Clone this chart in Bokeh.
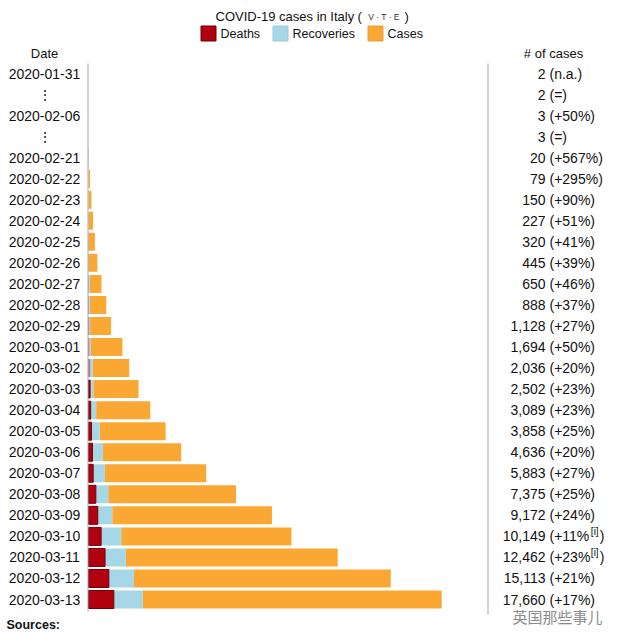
from bokeh.plotting import figure
from bokeh.models import Range1d, ColumnDataSource
from bokeh.core.properties import value
from bokeh.embed import file_html
from bokeh.resources import INLINE

# ---------------- data ----------------
dates = ["2020-01-31", "⋮", "2020-02-06", "⋮", "2020-02-21", "2020-02-22",
         "2020-02-23", "2020-02-24", "2020-02-25", "2020-02-26", "2020-02-27",
         "2020-02-28", "2020-02-29", "2020-03-01", "2020-03-02", "2020-03-03",
         "2020-03-04", "2020-03-05", "2020-03-06", "2020-03-07", "2020-03-08",
         "2020-03-09", "2020-03-10", "2020-03-11", "2020-03-12", "2020-03-13"]
total_cases = [2, 2, 3, 3, 20, 79, 150, 227, 320, 445, 650, 888, 1128, 1694,
               2036, 2502, 3089, 3858, 4636, 5883, 7375, 9172, 10149, 12462,
               15113, 17660]
deaths = [0, 0, 0, 0, 1, 2, 3, 7, 10, 12, 17, 21, 29, 34, 52, 79, 107, 148,
          197, 233, 366, 463, 631, 827, 1016, 1266]
recoveries = [0, 0, 0, 0, 0, 1, 2, 1, 1, 3, 45, 46, 50, 83, 149, 160, 276,
              414, 523, 589, 622, 724, 1004, 1045, 1258, 1439]
change_labels = ["(n.a.)", "(=)", "(+50%)", "(=)", "(+567%)", "(+295%)",
                 "(+90%)", "(+51%)", "(+41%)", "(+39%)", "(+46%)", "(+37%)",
                 "(+27%)", "(+50%)", "(+20%)", "(+23%)", "(+23%)", "(+25%)",
                 "(+20%)", "(+27%)", "(+25%)", "(+24%)", "(+11%)", "(+23%)",
                 "(+21%)", "(+17%)"]
notes = [""] * 22 + ["[i]", "[i]", "", ""]
series_names = ["Deaths", "Recoveries", "Cases"]

# ---------------- styles ----------------
C_DEATH = "#b1000e"
C_DEATH_LINE = "#6e0008"
C_REC = "#a6d7e6"
C_CASE = "#faa733"
C_LINE = "#a2a9b1"
TXT = "#111111"
FONT = "Liberation Sans"

W, H = 613, 633
CPP = 50.0            # cases per screen pixel
X0 = -88 * CPP        # bars start 88px from the left edge
ROW = 21.04           # row pitch in pixels
ROW0 = 73.0           # centre of first row in pixels


def px(cx):
    return X0 + cx * CPP


def py(cy):
    return (cy - ROW0) / ROW


CW = {"(": .333, ")": .333, "+": .584, "%": .889, "0": .556, "1": .556,
      "2": .556, "3": .556, "4": .556, "5": .556, "6": .556, "7": .556,
      "8": .556, "9": .556, "=": .584, "n": .556, "a": .556, ".": .278,
      "[": .278, "]": .278, "i": .222}


def tw(s, size):
    return sum(CW.get(c, .556) for c in s) * size


p = figure(width=W, height=H,
           x_range=Range1d(X0, X0 + W * CPP),
           y_range=Range1d(py(H), py(0)),
           output_backend="svg", toolbar_location=None,
           x_axis_location=None, y_axis_location=None,
           min_border=0, outline_line_color=None)
p.grid.visible = False
p.background_fill_color = "white"
p.border_fill_color = "white"

n = len(dates)
rows = list(range(n))

# ---------------- bars ----------------
big_d = [r for r in rows if deaths[r] >= 75]
small_d = [r for r in rows if 0 < deaths[r] < 75]
d_src = ColumnDataSource(dict(y=big_d, left=[0] * len(big_d),
                              right=[deaths[r] for r in big_d]))
ds_src = ColumnDataSource(dict(y=small_d, left=[0] * len(small_d),
                               right=[deaths[r] for r in small_d]))
r_src = ColumnDataSource(dict(
    y=[r for r in rows if recoveries[r] > 0],
    left=[deaths[r] for r in rows if recoveries[r] > 0],
    right=[deaths[r] + recoveries[r] for r in rows if recoveries[r] > 0]))
c_src = ColumnDataSource(dict(
    y=rows,
    left=[deaths[r] + recoveries[r] for r in rows],
    right=total_cases))

BH = 18 / ROW
p.hbar(y="y", left="left", right="right", height=BH, source=c_src,
       fill_color=C_CASE, line_color=None)
p.hbar(y="y", left="left", right="right", height=BH, source=r_src,
       fill_color=C_REC, line_color=None)
p.hbar(y="y", left="left", right="right", height=BH, source=ds_src,
       fill_color=C_DEATH, line_color=None)
p.hbar(y="y", left="left", right="right", height=BH, source=d_src,
       fill_color=C_DEATH, line_color=C_DEATH_LINE, line_width=1)

# ---------------- separator lines ----------------
p.segment(x0=[px(87.5), px(487.5)], y0=[py(63), py(63)],
          x1=[px(87.5), px(487.5)], y1=[py(611), py(614)],
          line_color=C_LINE, line_width=1)

common = dict(text_font=value(FONT), text_color=TXT, text_baseline="middle")

# ---------------- left column: dates ----------------
p.text(x=[px(44)] * n, y=rows, text=dates, text_align="center",
       text_font_size="14px", **common)

# ---------------- right column: totals & change ----------------
p.text(x=[px(545)] * n, y=rows, text=[f"{v:,}" for v in total_cases],
       text_align="right", text_font_size="14px", **common)
main_pct = [c[:-1] if nt else c for c, nt in zip(change_labels, notes)]
p.text(x=[px(549)] * n, y=rows, text=main_pct, text_align="left",
       text_font_size="14px", **common)
nr = [r for r in rows if notes[r]]
note_x = [px(549 + tw(main_pct[r], 14) + 0.5) for r in nr]
p.text(x=note_x, y=[r - 5 / ROW for r in nr], text=[notes[r] for r in nr],
       text_align="left", text_font_size="10px", **common)
p.text(x=[px(549 + tw(main_pct[r], 14) + tw(notes[r], 10) + 1.5) for r in nr],
       y=nr, text=[")"] * len(nr), text_align="left",
       text_font_size="14px", **common)

# ---------------- headers ----------------
p.text(x=[px(44), px(553)], y=[py(53), py(53)], text=["Date", "# of cases"],
       text_align="center", text_font_size="13px", **common)

# ---------------- title ----------------
p.text(x=[px(215)], y=[py(15.5)], text=["COVID-19 cases in Italy"],
       text_align="left", text_font_size="13px", **common)
p.text(x=[px(357), px(404)], y=[py(15.5), py(15.5)], text=["(", ")"],
       text_align="left", text_font_size="13px", **common)
p.text(x=[px(383.5)], y=[py(16)], text=["V · T · E"], text_align="center",
       text_font_size="8.5px", text_font=value(FONT), text_color="#333333",
       text_baseline="middle")

# ---------------- legend ----------------
p.rect(x=[px(208), px(280), px(375)], y=[py(33)] * 3, width=15, height=15,
       width_units="screen", height_units="screen",
       fill_color=[C_DEATH, C_REC, C_CASE],
       line_color=[C_DEATH_LINE, "#9bcad8", "#e8a040"], line_width=1)
p.text(x=[px(220), px(292), px(387)], y=[py(33)] * 3, text=series_names,
       text_align="left", text_font_size="12.5px", **common)

# ---------------- footer ----------------
p.text(x=[px(6)], y=[py(624.5)], text=["Sources:"], text_align="left",
       text_font_size="12.5px", text_font_style="bold", text_font=value(FONT),
       text_color=TXT, text_baseline="middle")
p.text(x=[px(512)], y=[py(616)], text=["英国那些事儿"], text_align="left",
       text_font_size="15px", text_font=value("Noto Sans CJK SC"),
       text_color="#8c8c8c", text_baseline="middle")

open("out.html", "w").write(file_html(p, INLINE))
